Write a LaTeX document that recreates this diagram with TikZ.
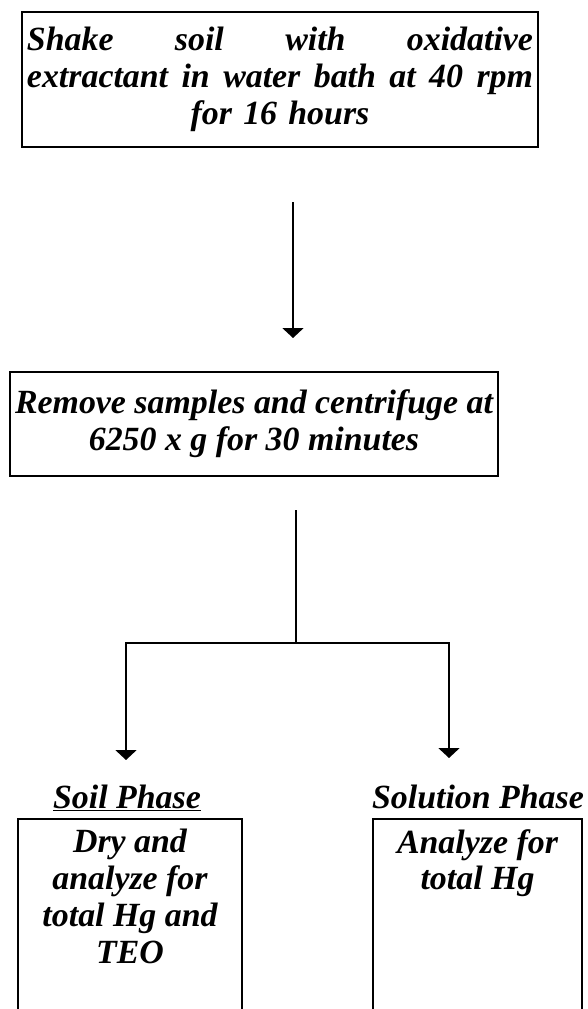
\documentclass[tikz,border=0pt]{standalone}
\usepackage{fontspec}
\setmainfont{Liberation Serif}
\usepackage{tikz}
\usetikzlibrary{positioning,arrows.meta}
\newcommand{\stepfont}{\fontsize{34}{37}\selectfont\bfseries\itshape}
\tikzset{
  flowarrow/.style={-{Triangle[width=21bp,length=10bp]}, line width=2bp},
  flowline/.style={line width=2bp},
  stepbox/.style={draw, line width=1.5bp, inner xsep=4bp, align=center, font=\stepfont},
  openbox/.style={draw, line width=1.5bp, anchor=north, minimum height=240bp},
  steptext/.style={align=center, inner sep=0pt, font=\stepfont},
  phaselabel/.style={anchor=base, inner sep=0pt, font=\stepfont}
}

\begin{document}
\begin{tikzpicture}[x=1bp, y=-1bp]
  \useasboundingbox (0,0) rectangle (588,1009);
  \clip (0,0) rectangle (588,1009);
  \node[stepbox, minimum width=516bp, minimum height=135bp, text width=506bp] (shake) at (280,79.5)
    {Shake\hfill soil\hfill with\hfill oxidative\\
     extractant\hfill in\hfill water\hfill bath\hfill at\hfill 40\hfill rpm\\
     for 16 hours};
  \node[stepbox, minimum width=488bp, minimum height=104bp] (centrifuge) at (254,424)
    {Remove samples and centrifuge at\\ 6250 x g for 30 minutes};
  % arrow between the two steps
  \coordinate (a1top) at (293,202);
  \coordinate (a1tip) at (293,338);
  \draw[flowarrow] (a1top) -- (a1tip);
  % split into the two phases
  \coordinate (stem) at (296,510);
  \coordinate (split) at (296,643);
  \coordinate (lend) at (126,760);
  \coordinate (rend) at (449,758);
  \draw[flowline] (stem) -- (split);
  \draw[flowarrow] (split) -| (lend);
  \draw[flowarrow] (split) -| (rend);
  % phase boxes, open at the bottom
  \node[phaselabel] (soillabel) at (127,808) {\underline{Soil Phase}};
  \node[phaselabel] (sollabel) at (478,808) {Solution Phase};
  \node[openbox, minimum width=224bp] (soilbox) at (130,818) {};
  \node[openbox, minimum width=209bp] (solbox) at (477.5,818) {};
  \node[steptext, below=11bp of soilbox.north] (soiltext) {Dry and\\ analyze for\\ total Hg and\\ TEO};
  \node[steptext, below=11bp of solbox.north] (soltext) {Analyze for\\ total Hg};
\end{tikzpicture}
\end{document}
